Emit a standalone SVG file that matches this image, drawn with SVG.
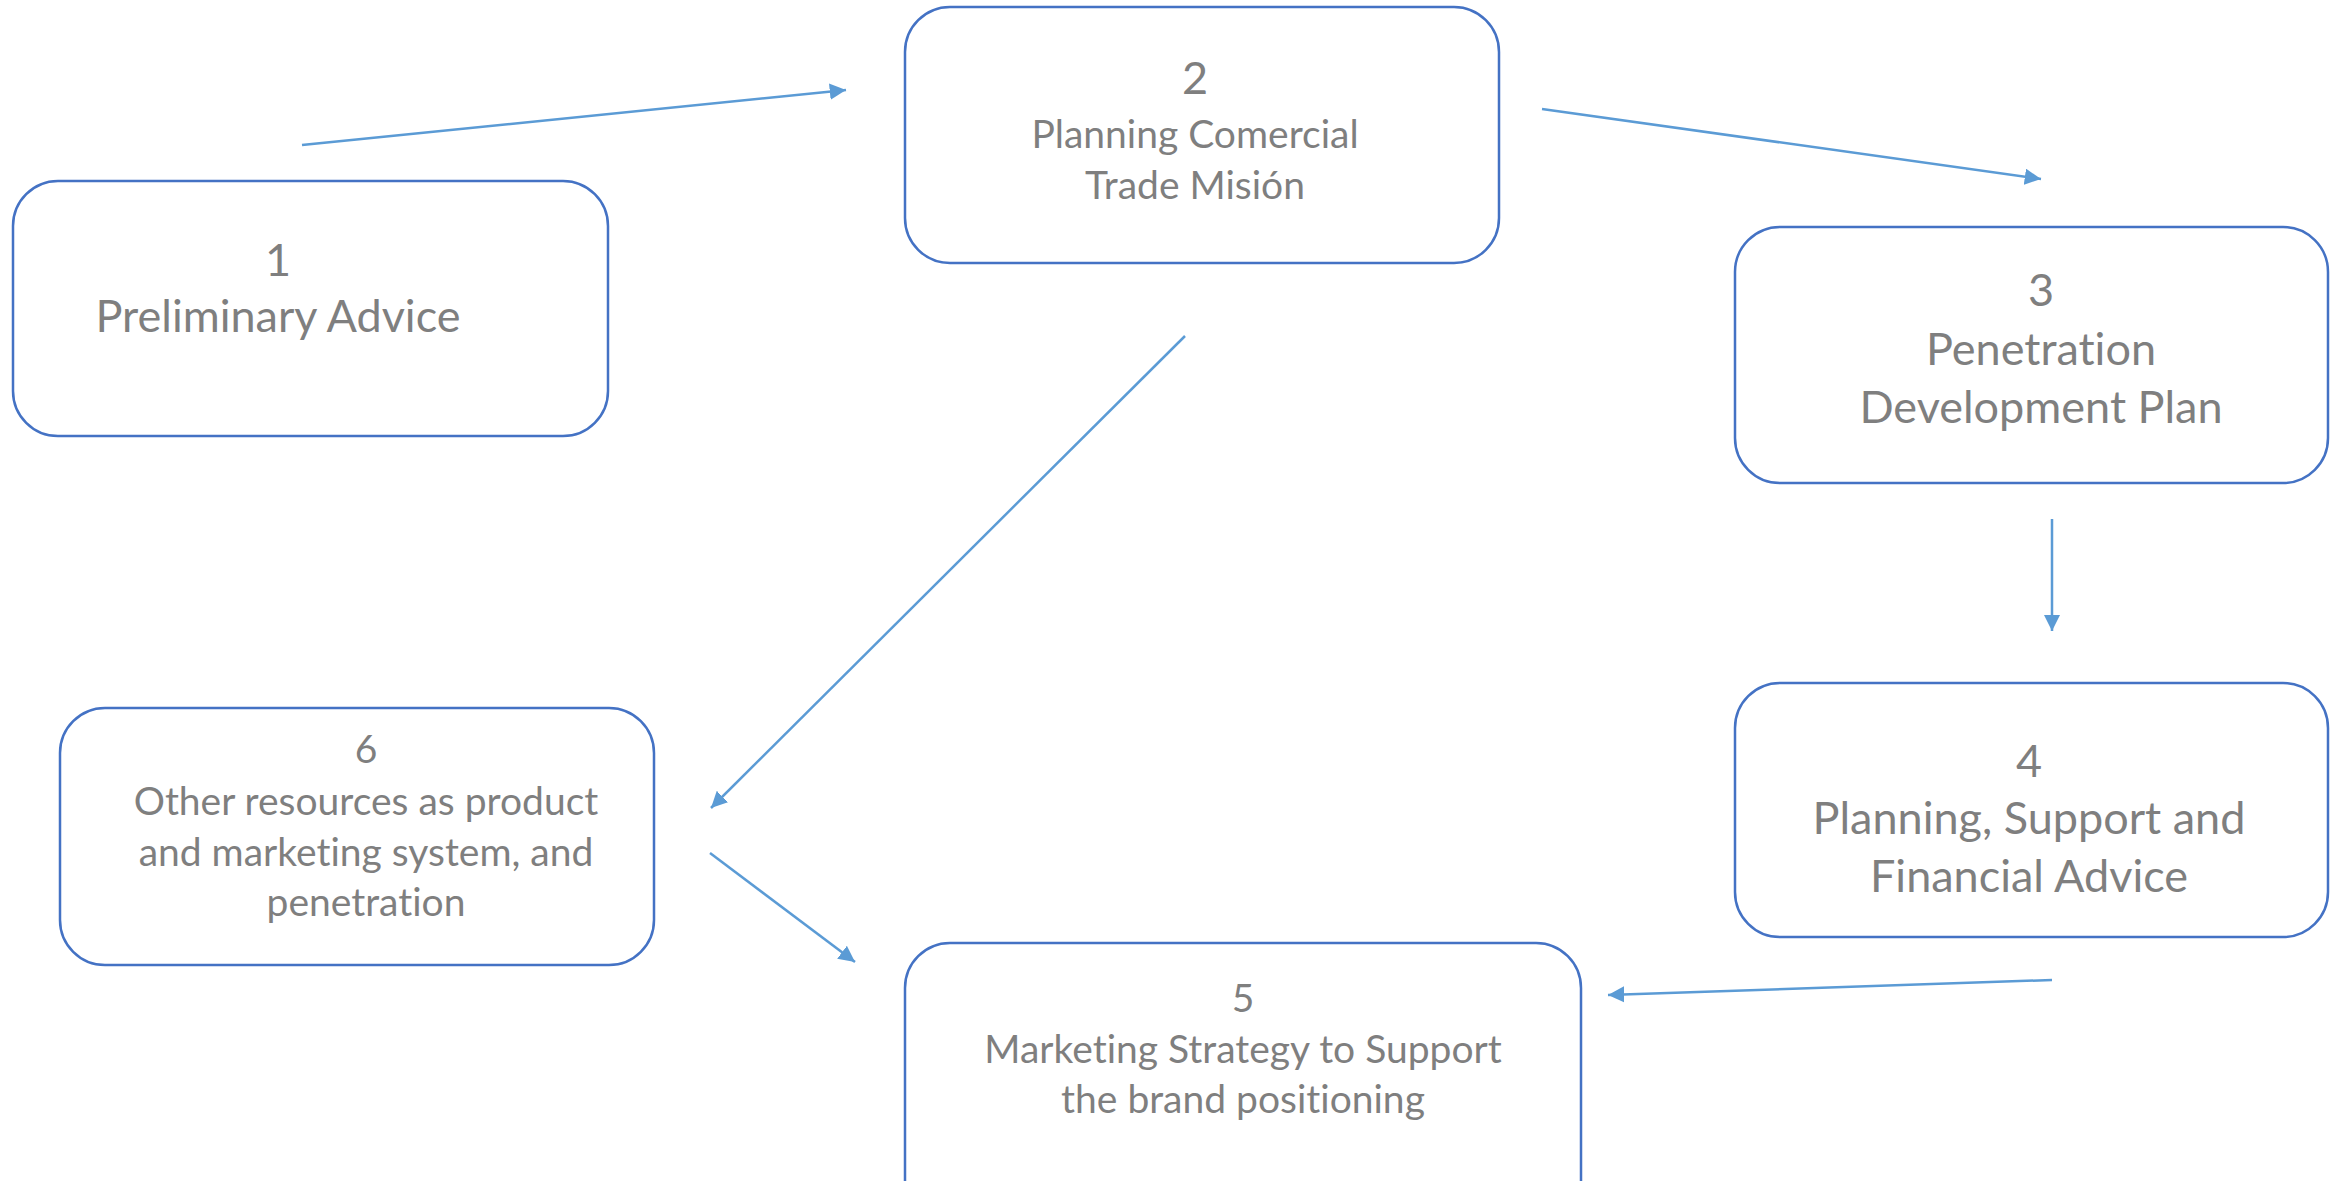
<svg xmlns="http://www.w3.org/2000/svg" width="2343" height="1181" viewBox="0 0 2343 1181">
  <style>
    .box { fill: #ffffff; stroke: #4472c4; stroke-width: 2.5; }
    .lbl { font-family: Lato, "Open Sans", "Liberation Sans", sans-serif; fill: #7f7f7f; text-anchor: middle; font-variant-ligatures: none; }
    .big { font-size: 45px; }
    .mid { font-size: 39px; }
    .link { stroke: #5b9bd5; stroke-width: 2.5; fill: none; marker-end: url(#head); }
  </style>
  <defs>
    <marker id="head" viewBox="0 0 10 10" refX="10" refY="5" markerWidth="6.5" markerHeight="6.5" markerUnits="strokeWidth" orient="auto">
      <path d="M0,0 L10,5 L0,10 Z" fill="#5b9bd5"/>
    </marker>
  </defs>
  <rect width="2343" height="1181" fill="#ffffff"/>

  <g id="node-1">
    <rect class="box" x="13" y="181" width="595" height="255" rx="45"/>
    <text class="lbl big" x="278" y="276">1</text>
    <text class="lbl big" x="278" y="332">Preliminary Advice</text>
  </g>

  <g id="node-2">
    <rect class="box" x="905" y="7" width="594" height="256" rx="45"/>
    <text class="lbl big" x="1195" y="94">2</text>
    <text class="lbl mid" x="1195" y="148">Planning Comercial</text>
    <text class="lbl mid" x="1195" y="199">Trade Misión</text>
  </g>

  <g id="node-3">
    <rect class="box" x="1735" y="227" width="593" height="256" rx="45"/>
    <text class="lbl big" x="2041" y="306">3</text>
    <text class="lbl big" x="2041" y="365">Penetration</text>
    <text class="lbl big" x="2041" y="423">Development Plan</text>
  </g>

  <g id="node-4">
    <rect class="box" x="1735" y="683" width="593" height="254" rx="45"/>
    <text class="lbl big" x="2029" y="777">4</text>
    <text class="lbl big" x="2029" y="834">Planning, Support and</text>
    <text class="lbl big" x="2029" y="892">Financial Advice</text>
  </g>

  <g id="node-5">
    <rect class="box" x="905" y="943" width="676" height="290" rx="45"/>
    <text class="lbl mid" x="1243" y="1012">5</text>
    <text class="lbl mid" x="1243" y="1063">Marketing Strategy to Support</text>
    <text class="lbl mid" x="1243" y="1113">the brand positioning</text>
  </g>

  <g id="node-6">
    <rect class="box" x="60" y="708" width="594" height="257" rx="45"/>
    <text class="lbl mid" x="366" y="763">6</text>
    <text class="lbl mid" x="366" y="815">Other resources as product</text>
    <text class="lbl mid" x="366" y="866">and marketing system, and</text>
    <text class="lbl mid" x="366" y="916">penetration</text>
  </g>

  <g id="connectors">
    <line class="link" x1="302" y1="145" x2="846" y2="90"/>
    <line class="link" x1="1542" y1="109" x2="2041" y2="179"/>
    <line class="link" x1="1185" y1="336" x2="711" y2="808"/>
    <line class="link" x1="2052" y1="519" x2="2052" y2="631"/>
    <line class="link" x1="2052" y1="980" x2="1608" y2="995"/>
    <line class="link" x1="710" y1="853" x2="855" y2="962"/>
  </g>
</svg>
